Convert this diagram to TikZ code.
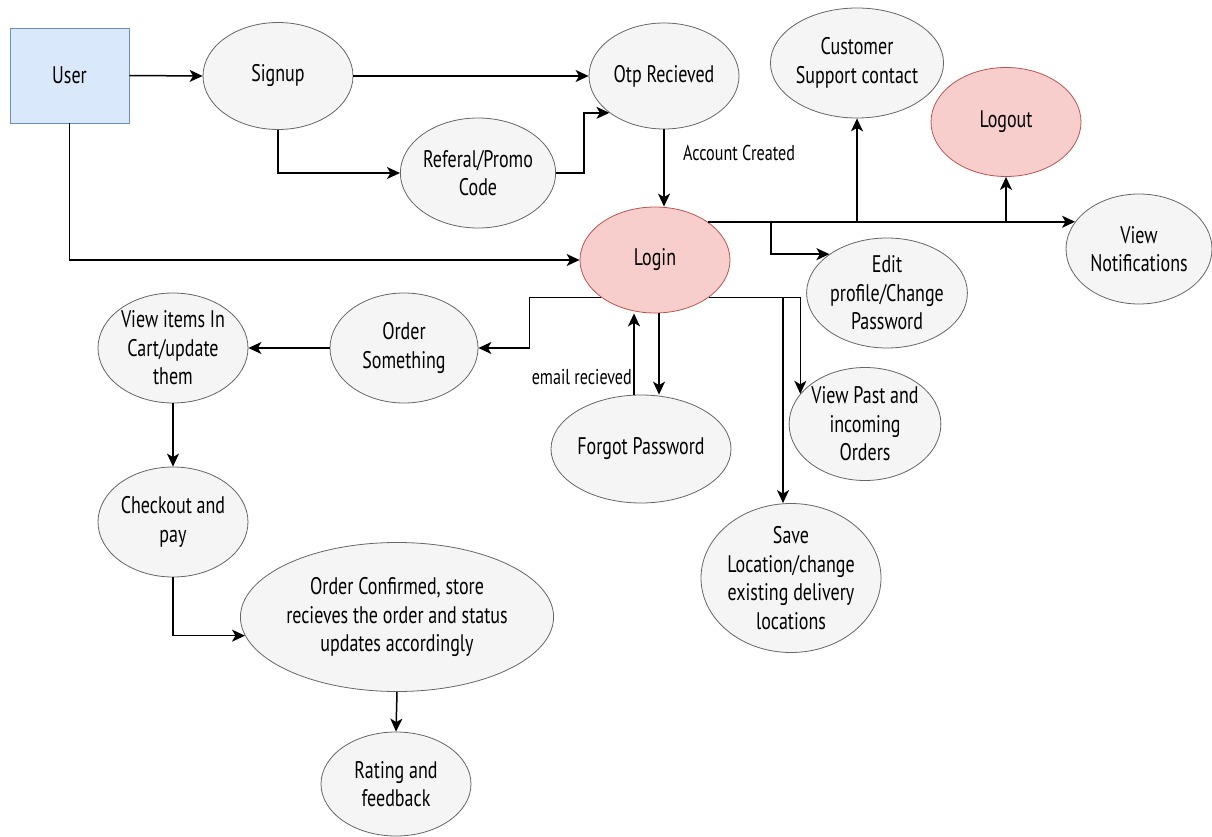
\documentclass[tikz,border=0pt]{standalone}
\usepackage{fontspec}
\setmainfont{PT Sans}[FakeStretch=0.75]
\usetikzlibrary{arrows.meta,shapes.geometric,calc}
\definecolor{grayfill}{HTML}{F5F5F5}
\definecolor{graydraw}{HTML}{666666}
\definecolor{pinkfill}{HTML}{F8CECC}
\definecolor{pinkdraw}{HTML}{B85450}
\definecolor{bluefill}{HTML}{DAE8FC}
\definecolor{bluedraw}{HTML}{6C8EBF}
\tikzset{
  ell/.style 2 args={ellipse, draw=graydraw, fill=grayfill, line width=0.8pt, inner sep=0pt,
    minimum width=#1pt, minimum height=#2pt, align=center,
    font=\fontsize{24}{28.5}\selectfont},
  pinkell/.style 2 args={ell={#1}{#2}, draw=pinkdraw, fill=pinkfill},
  userbox/.style={rectangle, draw=bluedraw, fill=bluefill, line width=0.8pt,
    minimum width=119pt, minimum height=95pt, font=\fontsize{24}{28}\selectfont},
  arr/.style={line width=1.5pt, -{Stealth[length=13pt,width=12pt,inset=3.5pt]}},
  lbl/.style={font=\fontsize{21.5}{24}\selectfont, inner sep=0pt}
}
\begin{document}
\begin{tikzpicture}[x=1pt,y=-1pt]
\useasboundingbox (0,0) rectangle (1212,837);
% nodes
\node[userbox] (user) at (69.5,75.5) {User};
\node[ell={150}{107}] (signup) at (278,76) {Signup};
\node[ell={150}{106}] (otp) at (664,76) {Otp Recieved};
\node[ell={137}{110}] (referal) at (478,173) {Referal/Promo\\Code};
\node[ell={150}{110}] (cust) at (857,63) {Customer\\Support contact};
\node[pinkell={150}{109}] (logout) at (1006,122) {Logout};
\node[pinkell={150}{106}] (login) at (655,260) {Login};
\node[ell={146}{110}] (vn) at (1139,249) {View\\Notifications};
\node[ell={148}{110}] (edit) at (887,293) {Edit\\profile/Change\\Password};
\node[ell={136}{113}] (vp) at (865,424) {View Past and\\incoming\\Orders};
\node[ell={146}{149}] (save) at (791,578) {Save\\Location/change\\existing delivery\\locations};
\node[ell={148}{110}] (order) at (404,348) {Order\\Something};
\node[ell={150}{110}] (vi) at (173,348) {View items In\\Cart/update\\them};
\node[ell={150}{108}] (forgot) at (641,449) {Forgot Password};
\node[ell={150}{110}] (co) at (173,522) {Checkout and\\pay};
\node[ell={268}{149}] (oc) at (397,617) {Order Confirmed, store\\recieves the order and status\\updates accordingly};
\node[ell={150}{104}] (rating) at (396,784) {Rating and\\feedback};
% labels
\node[lbl, anchor=west] (acc) at (683,153) {Account Created};
\node[lbl, anchor=east] (email) at (632,377) {email recieved};
% branch coordinates
\coordinate (b1) at (771,222);
\coordinate (b2) at (783,297);
% connectors
\draw[arr] (user.east) -- (signup.west);
\draw[arr] (signup.east) -- (otp.west);
\draw[arr] (signup.south) |- (referal.west);
\draw[arr] (referal.east) -- ++(28,0) |- (otp.214);
\draw[arr] (otp.south) -- (otp.south |- login.north);
\draw[arr] (user.south) |- (login.west);
\draw[arr] (login.36) -- (login.36 -| vn.157);
\draw[arr] (login.36 -| cust.south) -- (cust.south);
\draw[arr] (login.36 -| logout.south) -- (logout.south);
\draw[arr] (b1) |- (edit.146);
\draw[arr] (login.325) -| (vp.155);
\draw[arr] (b2) -- (b2 |- save.north);
\draw[arr] (login.215) -| ($(order.east)+(51,0)$) -- (order.east);
\draw[arr] ([xshift=4pt]login.south) -- ([xshift=18pt]forgot.north);
\draw[arr] ([xshift=-7pt]forgot.north) -- ([xshift=-21pt]login.south);
\draw[arr] (order.west) -- (vi.east);
\draw[arr] (vi.south) -- (co.north);
\draw[arr] (co.south) |- (oc.187);
\draw[arr] (oc.south) -- (rating.north);
\end{tikzpicture}
\end{document}
